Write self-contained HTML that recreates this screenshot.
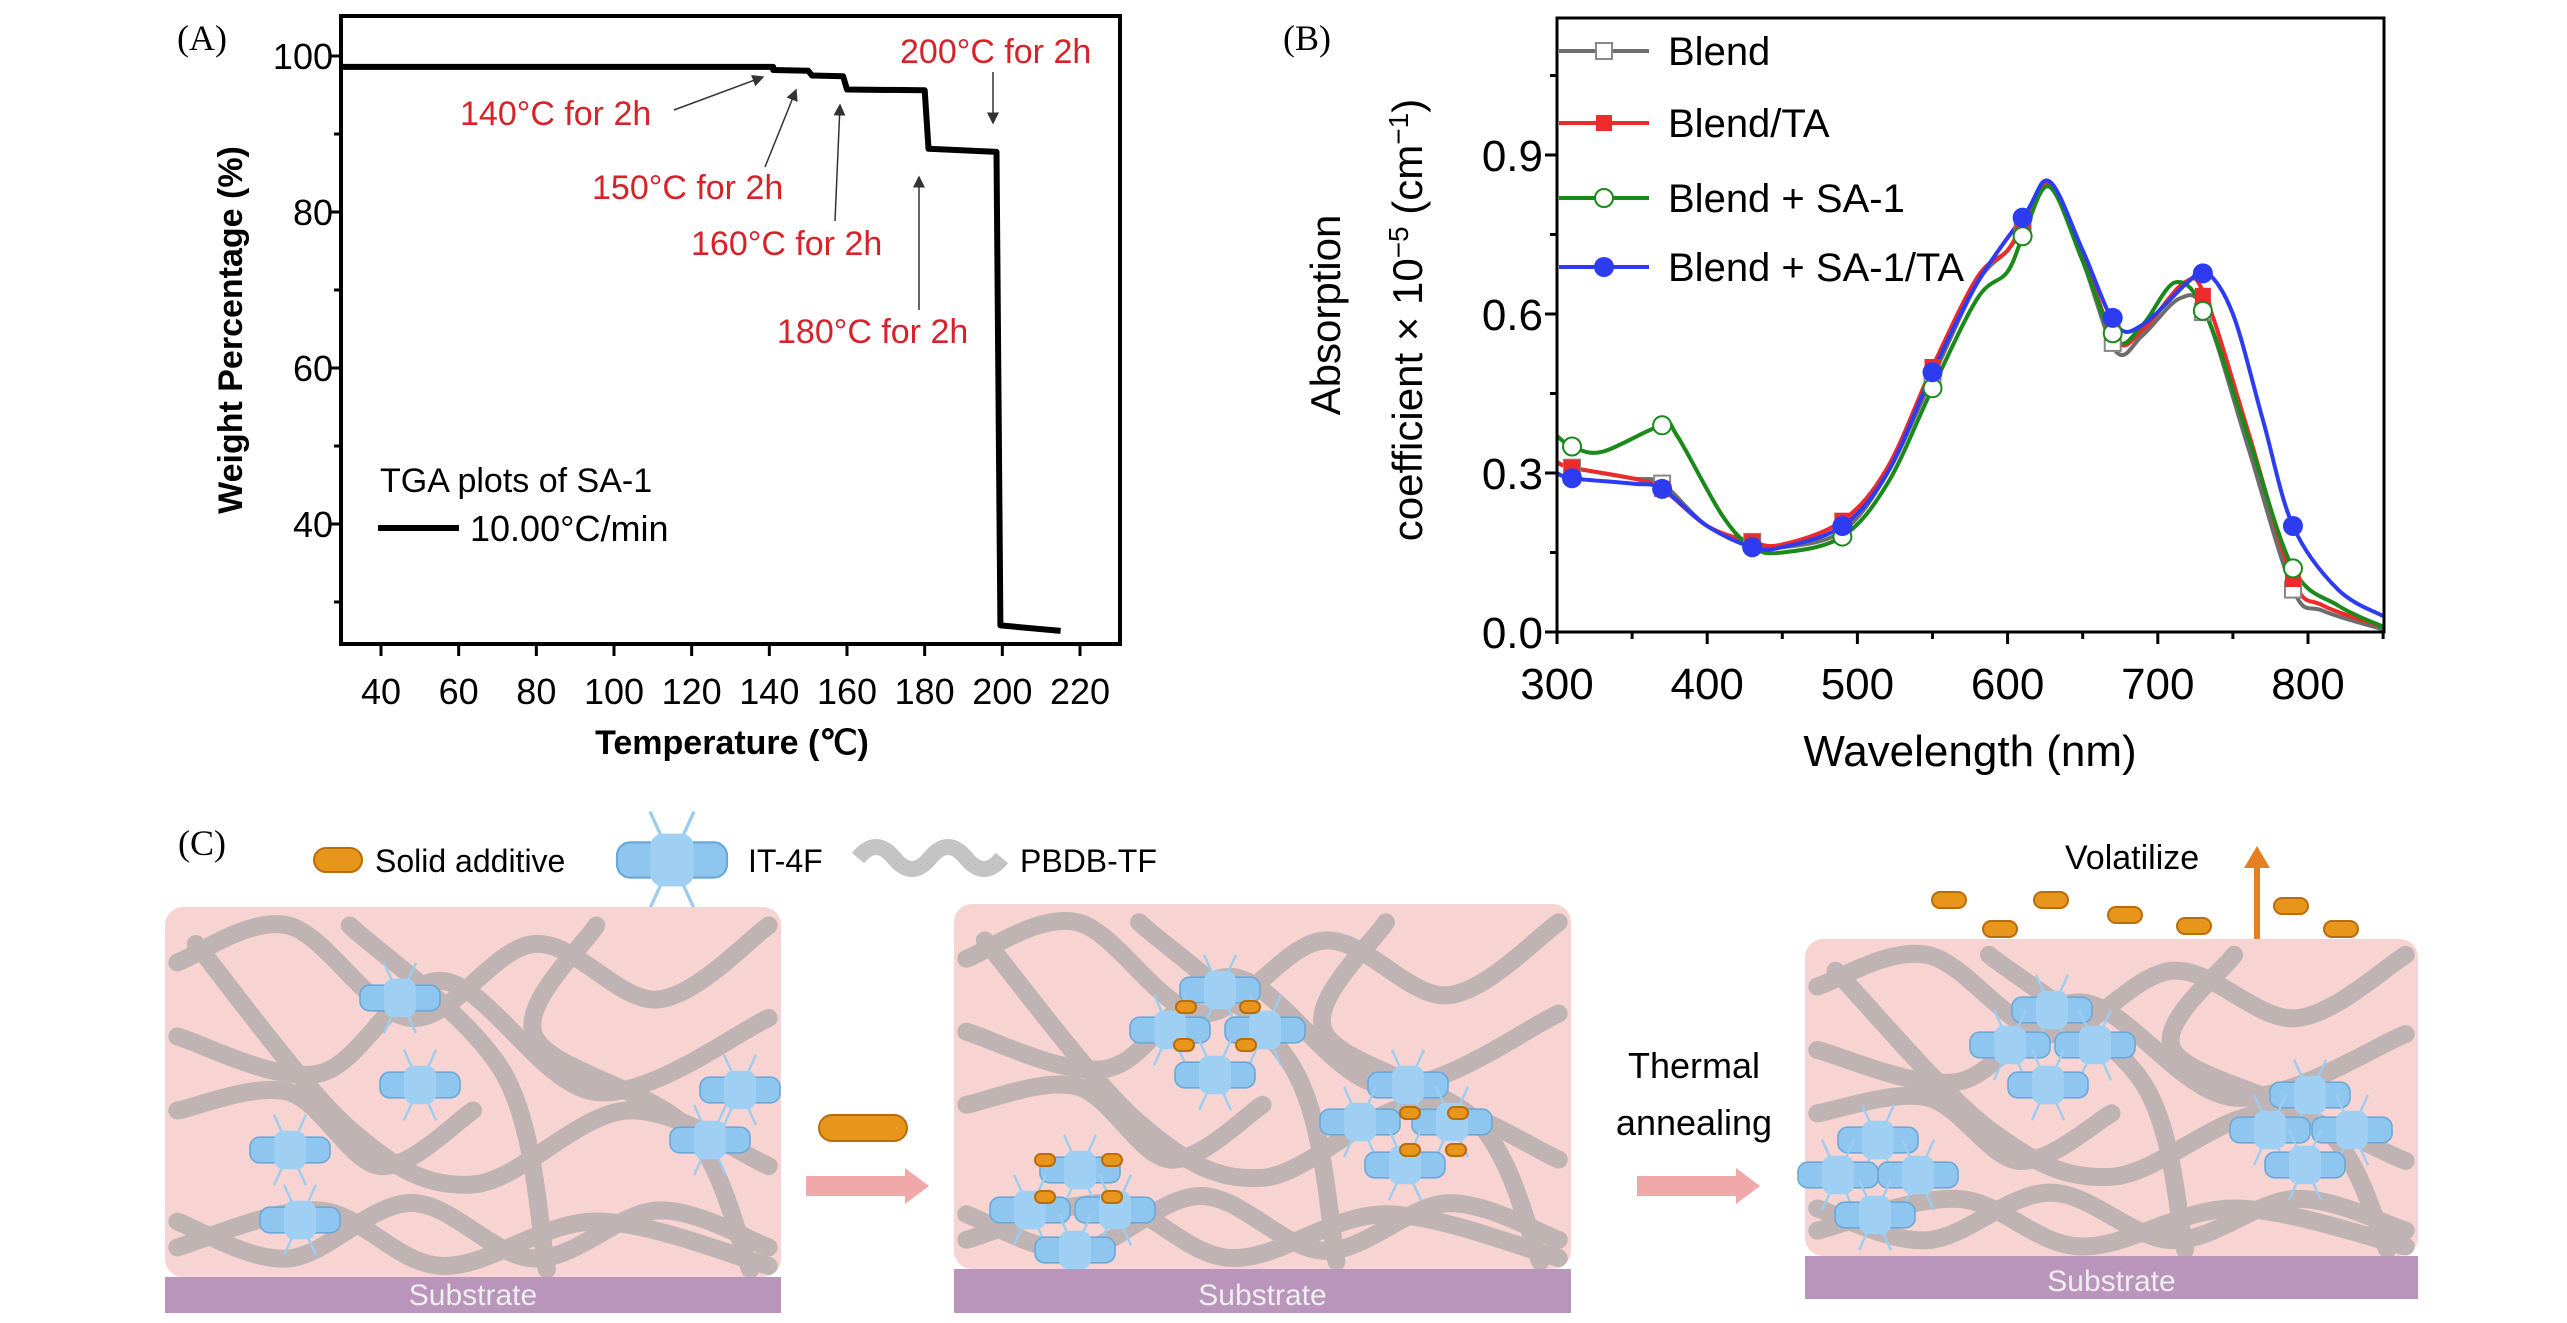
<!DOCTYPE html>
<html><head><meta charset="utf-8"><style>
html,body{margin:0;padding:0;background:#fff;}
svg{display:block;}
.t{font-family:"Liberation Sans Narrow","Liberation Sans",sans-serif;}
.s{font-family:"Liberation Sans",sans-serif;}
.r{font-family:"Liberation Serif",serif;}
</style></head><body>
<svg id="fig" width="2567" height="1323" viewBox="0 0 2567 1323" xmlns="http://www.w3.org/2000/svg">
<g id="panelA"></g>
<g id="panelB"></g>
<g id="panelC"></g>
</svg>
<script>
// ---------- Panel A data ----------
const tgaTemps = [30, 141, 141, 150, 151, 159, 160, 180, 181, 198.5, 199.5, 215];
const tgaWeights = [98.6, 98.6, 98.2, 98.1, 97.5, 97.4, 95.7, 95.6, 88.1, 87.7, 27.0, 26.3];
const aXTicks = [40, 60, 80, 100, 120, 140, 160, 180, 200, 220];
const aYTicks = [40, 60, 80, 100];
const aYMinor = [30, 50, 70, 90];
const aNotes = ["140°C for 2h", "150°C for 2h", "160°C for 2h", "180°C for 2h", "200°C for 2h"];

// ---------- Panel B data ----------
const bXTicks = [300, 400, 500, 600, 700, 800];
const bYTicks = [0.0, 0.3, 0.6, 0.9];
const bSeriesNames = ["Blend", "Blend/TA", "Blend + SA-1", "Blend + SA-1/TA"];
const blendX = [300,310,350,370,400,430,450,490,520,550,580,600,612,628,650,672,690,715,732,760,790,810,850];
const blendY = [0.32,0.31,0.29,0.28,0.20,0.17,0.16,0.19,0.30,0.48,0.66,0.72,0.77,0.84,0.70,0.53,0.56,0.63,0.60,0.35,0.08,0.04,0.005];
const blendTaX = [300,310,350,370,400,430,450,490,520,550,580,600,612,628,650,672,690,718,732,760,790,810,850];
const blendTaY = [0.32,0.31,0.29,0.27,0.20,0.17,0.165,0.21,0.31,0.50,0.67,0.72,0.78,0.845,0.71,0.55,0.57,0.66,0.63,0.38,0.10,0.05,0.01];
const saX = [300,310,330,370,380,410,430,450,490,520,550,580,600,612,628,650,672,690,712,732,760,790,820,850];
const saY = [0.37,0.35,0.34,0.39,0.37,0.22,0.16,0.15,0.18,0.28,0.46,0.63,0.68,0.76,0.84,0.70,0.55,0.58,0.66,0.60,0.37,0.12,0.05,0.01];
const saTaX = [300,310,350,370,400,430,450,490,520,550,580,612,628,650,672,690,720,732,750,770,790,820,850];
const saTaY = [0.30,0.29,0.28,0.27,0.20,0.16,0.16,0.20,0.30,0.49,0.66,0.79,0.85,0.72,0.58,0.58,0.66,0.68,0.60,0.40,0.20,0.08,0.03];
const markerX = [310,370,430,490,550,610,670,730,790];

const NS = "http://www.w3.org/2000/svg";
function mk(parent, tag, attrs, text){
  const e = document.createElementNS(NS, tag);
  for (const k in attrs) e.setAttribute(k, attrs[k]);
  if (text !== undefined) e.textContent = text;
  parent.appendChild(e);
  return e;
}
function interp(xs, ys, x){
  for (let i=0;i<xs.length-1;i++){ if (x>=xs[i] && x<=xs[i+1]) return ys[i]+(ys[i+1]-ys[i])*(x-xs[i])/(xs[i+1]-xs[i]); }
  return ys[ys.length-1];
}
function smoothPath(pts){
  let d = "M"+pts[0][0]+","+pts[0][1];
  for (let i=0;i<pts.length-1;i++){
    const p0=pts[Math.max(0,i-1)], p1=pts[i], p2=pts[i+1], p3=pts[Math.min(pts.length-1,i+2)];
    const c1=[p1[0]+(p2[0]-p0[0])/6, p1[1]+(p2[1]-p0[1])/6];
    const c2=[p2[0]-(p3[0]-p1[0])/6, p2[1]-(p3[1]-p1[1])/6];
    d += " C"+c1[0].toFixed(1)+","+c1[1].toFixed(1)+" "+c2[0].toFixed(1)+","+c2[1].toFixed(1)+" "+p2[0].toFixed(1)+","+p2[1].toFixed(1);
  }
  return d;
}

// ================= Panel A =================
(function(){
  const g = document.getElementById('panelA');
  const L=341, R=1120, T=16, B=644;
  const ax = v => 381 + (v-40)*(699/180);
  const ay = v => 56 + (100-v)*7.8;
  let e;
  e = mk(g,'text',{x:177,y:50,'font-size':36,class:'r'},'(A)');
   
  e = mk(g,'rect',{x:L,y:T,width:R-L,height:B-T,fill:'none',stroke:'#000','stroke-width':4});
   
  aXTicks.forEach(v=>{
    e = mk(g,'line',{x1:ax(v),x2:ax(v),y1:B,y2:B+12,stroke:'#000','stroke-width':3});
     
    e = mk(g,'text',{x:ax(v),y:704,'font-size':36,'text-anchor':'middle',class:'t'},String(v));
     
  });
  aYTicks.forEach(v=>{
    e = mk(g,'line',{x1:L-12,x2:L,y1:ay(v),y2:ay(v),stroke:'#000','stroke-width':3});
     
    e = mk(g,'text',{x:L-8,y:ay(v)+13,'font-size':36,'text-anchor':'end',class:'t'},String(v));
     
  });
  aYMinor.forEach(v=>{
    e = mk(g,'line',{x1:L-7,x2:L,y1:ay(v),y2:ay(v),stroke:'#000','stroke-width':3});
     
  });
  e = mk(g,'text',{x:732,y:754,'font-size':34,'text-anchor':'middle',class:'t','font-weight':'bold'},'Temperature (℃)');
   
  e = mk(g,'text',{x:0,y:0,'font-size':34,'text-anchor':'middle',class:'s','font-weight':'bold',transform:'translate(242,330) rotate(-90)'},'Weight Percentage (%)');
   
  const d = tgaTemps.map((t,i)=>(i?'L':'M')+ax(t).toFixed(1)+','+ay(tgaWeights[i]).toFixed(1)).join(' ');
  e = mk(g,'path',{d:d,fill:'none',stroke:'#000','stroke-width':6,'stroke-linejoin':'round'});
   
  const notePos = [[460,125],[592,199],[691,255],[777,343],[900,63]];
  const arrows = [[674,110,763,77],[765,167,796,90],[835,221,840,105],[919,310,919,177],[993,72,993,123]];
  mk(g,'defs',{}).innerHTML='<marker id="ah" markerWidth="8" markerHeight="8" refX="7" refY="4" orient="auto"><path d="M0,0 L8,4 L0,8 z" fill="#333"/></marker>';
  aNotes.forEach((n,i)=>{
    e = mk(g,'text',{x:notePos[i][0],y:notePos[i][1],'font-size':34,fill:'#d6232a',class:'t'},n);
     
    const a=arrows[i];
    e = mk(g,'line',{x1:a[0],y1:a[1],x2:a[2],y2:a[3],stroke:'#333','stroke-width':1.5,'marker-end':'url(#ah)'});
     
  });
  e = mk(g,'text',{x:380,y:492,'font-size':34,class:'t'},'TGA plots of SA-1');
   
  e = mk(g,'line',{x1:378,x2:459,y1:528,y2:528,stroke:'#000','stroke-width':6});
   
  e = mk(g,'text',{x:470,y:541,'font-size':36,class:'t'},'10.00°C/min');
   
})();

// ================= Panel B =================
(function(){
  const g = document.getElementById('panelB');
  const L=1557, R=2384, T=18, B=632;
  const bx = v => L + (v-300)*1.502;
  const by = v => B - v*530;
  let e;
  e = mk(g,'text',{x:1283,y:50,'font-size':36,class:'r'},'(B)');
   
  const colors = ['#6d6d6d','#ee2b2b','#1a8a1a','#2d3cf0'];
  const xsArr = [blendX, blendTaX, saX, saTaX];
  const ysArr = [blendY, blendTaY, saY, saTaY];
  const clip = mk(g,'clipPath',{id:'clipB'}); mk(clip,'rect',{x:L,y:T,width:R-L,height:B-T});
  [0,1,2,3].forEach(s=>{
    const pts = xsArr[s].map((x,i)=>[bx(x), by(ysArr[s][i])]);
    e = mk(g,'path',{d:smoothPath(pts),fill:'none',stroke:colors[s],'stroke-width':4,'clip-path':'url(#clipB)'});
     
  });
  [0,1,2,3].forEach(s=>{
    markerX.forEach(mx=>{
      const cx=bx(mx), cy=by(interp(xsArr[s],ysArr[s],mx));
      if (s===0){ e = mk(g,'rect',{x:cx-8,y:cy-8,width:16,height:16,fill:'#fff',stroke:'#888','stroke-width':2}); }
      else if (s===1){ e = mk(g,'rect',{x:cx-8,y:cy-8,width:16,height:16,fill:'#ee2b2b'}); }
      else if (s===2){ e = mk(g,'circle',{cx:cx,cy:cy,r:9,fill:'#fff',stroke:'#1a8a1a','stroke-width':2}); }
      else { e = mk(g,'circle',{cx:cx,cy:cy,r:10,fill:'#2d3cf0'}); }
       
    });
  });
  e = mk(g,'rect',{x:L,y:T,width:R-L,height:B-T,fill:'none',stroke:'#000','stroke-width':3});
   
  bXTicks.forEach(v=>{
    e = mk(g,'line',{x1:bx(v),x2:bx(v),y1:B,y2:B+12,stroke:'#000','stroke-width':3});
     
    e = mk(g,'line',{x1:bx(v+50),x2:bx(v+50),y1:B,y2:B+7,stroke:'#000','stroke-width':3});
     
    e = mk(g,'text',{x:bx(v),y:699,'font-size':44,'text-anchor':'middle',class:'t'},String(v));
     
  });
  bYTicks.forEach(v=>{
    e = mk(g,'line',{x1:L-12,x2:L,y1:by(v),y2:by(v),stroke:'#000','stroke-width':3});
     
    e = mk(g,'line',{x1:L-7,x2:L,y1:by(v+0.15),y2:by(v+0.15),stroke:'#000','stroke-width':3});
     
    e = mk(g,'text',{x:L-14,y:by(v)+16,'font-size':44,'text-anchor':'end',class:'t'},v.toFixed(1));
     
  });
  e = mk(g,'text',{x:1970,y:766,'font-size':44,'text-anchor':'middle',class:'t'},'Wavelength (nm)');
   
  e = mk(g,'text',{x:0,y:0,'font-size':42,'text-anchor':'middle',class:'s',transform:'translate(1340,315) rotate(-90)'},'Absorption');
   
  e = mk(g,'text',{x:0,y:0,'font-size':42,'text-anchor':'middle',class:'s',transform:'translate(1422,320) rotate(-90)'});
  e.innerHTML='coefficient × 10<tspan dy="-14" font-size="28">−5</tspan><tspan dy="14"> (cm</tspan><tspan dy="-14" font-size="28">−1</tspan><tspan dy="14">)</tspan>';
   
  const ly=[51,123,198,267];
  bSeriesNames.forEach((n,s)=>{
    e = mk(g,'line',{x1:1559,x2:1649,y1:ly[s],y2:ly[s],stroke:colors[s],'stroke-width':4});
     
    const cx=1604, cy=ly[s];
    if (s===0) e = mk(g,'rect',{x:cx-8,y:cy-8,width:16,height:16,fill:'#fff',stroke:'#888','stroke-width':2});
    else if (s===1) e = mk(g,'rect',{x:cx-8,y:cy-8,width:16,height:16,fill:'#ee2b2b'});
    else if (s===2) e = mk(g,'circle',{cx:cx,cy:cy,r:9,fill:'#fff',stroke:'#1a8a1a','stroke-width':2});
    else e = mk(g,'circle',{cx:cx,cy:cy,r:10,fill:'#2d3cf0'});
     
    e = mk(g,'text',{x:1668,y:ly[s]+14,'font-size':40,class:'t'},n);
     
  });
})();

// ================= Panel C =================
(function(){
  const g = document.getElementById('panelC');
  let e;
  e = mk(g,'text',{x:178,y:855,'font-size':36,class:'r'},'(C)');
   
  function pill(x,y,w,h){ const p=mk(g,'rect',{x:x-w/2,y:y-h/2,width:w,height:h,rx:h/2,fill:'#e8951c',stroke:'#b86d0c','stroke-width':2}); return p; }
  function mol(x,y,s){
    s = s||1.6;
    const m=mk(g,'g',{transform:'translate('+x+','+y+') scale('+s+')'});
    mk(m,'line',{x1:-10,y1:-22,x2:10,y2:22,stroke:'#9ccdf0','stroke-width':1.5});
    mk(m,'line',{x1:10,y1:-22,x2:-10,y2:22,stroke:'#9ccdf0','stroke-width':1.5});
    mk(m,'rect',{x:-25,y:-8,width:50,height:16,rx:6,fill:'#8ec6f0',stroke:'#6aa8d8','stroke-width':1});
    mk(m,'rect',{x:-10,y:-12,width:20,height:24,rx:6,fill:'#9fd0f4'});
    return m;
  }
  e = pill(338,860,48,24);  
  e = mk(g,'text',{x:375,y:872,'font-size':32,class:'t'},'Solid additive');  
  e = mol(672,860,2.2);  
  e = mk(g,'text',{x:748,y:872,'font-size':32,class:'t'},'IT-4F');  
  e = mk(g,'path',{d:'M858,858 q18,-22 36,0 t36,0 t36,0 t36,0',fill:'none',stroke:'#c4c4c4','stroke-width':16});  
  e = mk(g,'text',{x:1020,y:872,'font-size':32,class:'t'},'PBDB-TF');  

  const boxes=[[165,907,616,1277,1313],[954,904,617,1269,1313],[1805,939,613,1256,1299]];
  const mols=[
    [[400,998],[420,1085],[290,1150],[740,1090],[710,1140],[300,1220]],
    [[1220,990],[1170,1030],[1265,1030],[1215,1075],[1080,1170],[1030,1210],[1115,1210],[1075,1250],[1408,1085],[1360,1122],[1452,1122],[1405,1165]],
    [[2052,1010],[2010,1045],[2095,1045],[2048,1085],[1878,1140],[1838,1175],[1918,1175],[1875,1215],[2310,1095],[2270,1130],[2352,1130],[2305,1165]]
  ];
  const adds=[[],[[1186,1007],[1250,1007],[1184,1045],[1246,1045],[1045,1160],[1112,1160],[1045,1197],[1112,1197],[1410,1113],[1458,1113],[1410,1150],[1456,1150]],[]];
  boxes.forEach((b,i)=>{
    e = mk(g,'rect',{x:b[0],y:b[1],width:b[2],height:b[3]-b[1],rx:18,fill:'#f7d4d2'});
     
    const pg=mk(g,'g',{fill:'none',stroke:'#aaa6a6','stroke-width':18,opacity:0.7,'stroke-linecap':'round'});
     
    const x0=b[0], y0=b[1], w=b[2], h=b[3]-b[1];
    const rels=[[[0.02,0.15],[0.2,0.05],[0.4,0.3],[0.6,0.1],[0.8,0.25],[0.98,0.05]],
                [[0.02,0.35],[0.25,0.45],[0.45,0.2],[0.7,0.5],[0.98,0.3]],
                [[0.05,0.1],[0.3,0.6],[0.5,0.75],[0.75,0.55],[0.98,0.7]],
                [[0.02,0.85],[0.2,0.95],[0.4,0.8],[0.6,0.95],[0.8,0.82],[0.98,0.92]],
                [[0.02,0.92],[0.25,0.82],[0.45,0.97],[0.7,0.85],[0.98,0.97]],
                [[0.3,0.05],[0.55,0.45],[0.62,0.98]],
                [[0.7,0.05],[0.6,0.35],[0.85,0.6],[0.95,0.98]],
                [[0.02,0.55],[0.2,0.5],[0.35,0.7],[0.5,0.55]]];
    rels.forEach(r=>{ mk(pg,'path',{d:smoothPath(r.map(p=>[x0+p[0]*w,y0+p[1]*h]))}); });
    mols[i].forEach(m=>{ e=mol(m[0],m[1]);   });
    adds[i].forEach(a=>{ e=pill(a[0],a[1],20,12);   });
    e = mk(g,'rect',{x:b[0],y:b[3],width:b[2],height:b[4]-b[3],fill:'#b994bb'});
     
    e = mk(g,'text',{x:b[0]+b[2]/2,y:b[4]-8,'font-size':30,'text-anchor':'middle',fill:'#eee',class:'t'},'Substrate');
     
  });
  e = pill(863,1128,88,26);  
  e = mk(g,'path',{d:'M806,1176 L905,1176 L905,1168 L929,1186 L905,1204 L905,1196 L806,1196 z',fill:'#f1a8a8'});
   
  e = mk(g,'path',{d:'M1637,1176 L1736,1176 L1736,1168 L1760,1186 L1736,1204 L1736,1196 L1637,1196 z',fill:'#f1a8a8'});
   
  e = mk(g,'text',{x:1694,y:1078,'font-size':36,'text-anchor':'middle',class:'t'},'Thermal');
   
  e = mk(g,'text',{x:1694,y:1135,'font-size':36,'text-anchor':'middle',class:'t'},'annealing');
   
  e = mk(g,'text',{x:2065,y:869,'font-size':34,class:'t'},'Volatilize');
   
  e = mk(g,'path',{d:'M2254,939 L2254,868 L2244,868 L2257,846 L2270,868 L2260,868 L2260,939 z',fill:'#e67e22'});
   
  [[1949,900],[2051,900],[2000,929],[2125,915],[2194,926],[2291,906],[2341,929]].forEach(p=>{
    e = pill(p[0],p[1],34,16);  
  });
})();
</script>
</body></html>
